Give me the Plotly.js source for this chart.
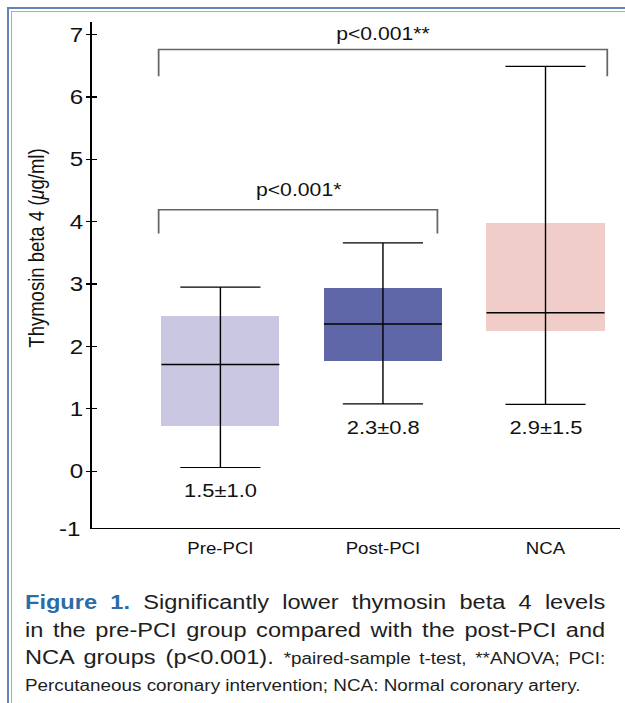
<!DOCTYPE html>
<html>
<head>
<meta charset="utf-8">
<script src="https://cdn.plot.ly/plotly-3.0.1.min.js"></script>
<style>
  html, body { margin:0; padding:0; background:#fff; width:625px; height:703px; overflow:hidden; }
  #frameOuter { position:absolute; left:7px; top:7px; right:0; bottom:0; border-left:2.5px solid #6085bd; border-top:2.5px solid #6085bd; }
  #frameInner { position:absolute; left:11px; top:11px; right:0; bottom:0; border-left:1px solid #97b0d8; border-top:1px solid #97b0d8; }
  #stretch { position:absolute; left:0; top:0; width:530px; height:703px; transform:scaleX(1.17925); transform-origin:0 0; }
  #chart { position:absolute; left:0; top:0; width:530px; height:580px; }
  #caption { position:absolute; left:21.2px; top:589px; width:492px; font-family:"Liberation Sans", Arial, sans-serif; color:#1e1e1e; }
  #caption .ln { height:27.5px; line-height:27.5px; font-size:20px; text-align:justify; text-align-last:justify; white-space:normal; }
  #caption .ln.last { text-align:left; text-align-last:left; white-space:nowrap; }
  #caption .fig { color:#2b6ca8; font-weight:bold; }
  #caption .sm { font-size:16px; }
</style>
</head>
<body>
<div id="frameOuter"></div>
<div id="frameInner"></div>
<div id="stretch">
<div id="chart"></div>
<div id="caption">
  <div class="ln"><span class="fig">Figure 1.</span> Significantly lower thymosin beta 4 levels</div>
  <div class="ln">in the pre-PCI group compared with the post-PCI and</div>
  <div class="ln">NCA groups (p&lt;0.001). <span class="sm">*paired-sample t-test, **ANOVA; PCI:</span></div>
  <div class="ln last sm">Percutaneous coronary intervention; NCA: Normal coronary artery.</div>
</div>
</div>
<script>
// ---- data ----
const categories = ['Pre-PCI', 'Post-PCI', 'NCA'];
const q1 = [0.73, 1.77, 2.25];
const q3 = [2.49, 2.94, 3.98];
const medians = [1.71, 2.36, 2.54];
const lowerWhisker = [0.06, 1.08, 1.07];
const upperWhisker = [2.95, 3.66, 6.49];
const meanSdLabels = ['1.5±1.0', '2.3±0.8', '2.9±1.5'];
const yTickVals = [0, 1, 2, 3, 4, 5, 6, 7];
const yTickText = ['0', '1', '2', '3', '4', '5', '6', '7'];
const yBottom = -0.91;          // where the x axis line sits
const yBottomLabel = '-1';
const yTop = 7.2;
const pLabels = ['p<0.001**', 'p<0.001*'];
// ---- styles ----
const boxColors = ['#c9c7e1', '#5f67a8', '#f0cdc8'];
const FONT = '"Liberation Sans", Arial, Helvetica, sans-serif';

const boxBars = {
  type: 'bar', x: categories,
  y: q3.map((v, i) => v - q1[i]), base: q1,
  width: 0.726,
  marker: { color: boxColors, line: { width: 0 } },
  hoverinfo: 'skip', showlegend: false
};
const whiskers = {
  type: 'scatter', mode: 'markers', x: categories, y: medians,
  marker: { symbol: 'line-ew', size: 71.5, color: '#000', line: { color: '#000', width: 1.5 } },
  error_y: {
    type: 'data', symmetric: false,
    array: upperWhisker.map((v, i) => v - medians[i]),
    arrayminus: medians.map((v, i) => v - lowerWhisker[i]),
    width: 34, thickness: 1.2, color: '#000'
  },
  hoverinfo: 'skip', showlegend: false
};
const dummy = { type: 'scatter', x: [], y: [], yaxis: 'y2', showlegend: false, hoverinfo: 'skip' };

const annotations = categories.map((c, i) => ({
  x: c, y: lowerWhisker[i], xref: 'x', yref: 'y', text: meanSdLabels[i],
  showarrow: false, yanchor: 'top', yshift: -11, font: { size: 18.6, color: '#111', family: FONT }
}));
annotations.push({ x: 1, y: 6.76, xref: 'x', yref: 'y', text: pLabels[0], showarrow: false, yanchor: 'bottom', yshift: 3, font: { size: 18, color: '#111', family: FONT } });
annotations.push({ x: 0.48, y: 4.17, xref: 'x', yref: 'y', text: pLabels[1], showarrow: false, yanchor: 'bottom', yshift: 9, font: { size: 18, color: '#111', family: FONT } });
annotations.push({ x: 0, y: 0.553, xref: 'paper', yref: 'paper', xshift: -60, text: 'Thymosin beta 4 (<i>μ</i>g/ml)', textangle: -90, showarrow: false, font: { size: 18.5, color: '#111', family: FONT } });
annotations.push({ x: 0, y: yBottom, xref: 'paper', yref: 'y', xanchor: 'right', xshift: -8, text: yBottomLabel, showarrow: false, font: { size: 20.5, color: '#111', family: FONT } });

const bracketColor = '#666';
const shapes = [
  { type: 'path', xref: 'x', yref: 'y', path: 'M -0.38 6.33 L -0.38 6.76 L 2.38 6.76 L 2.38 6.33', line: { color: bracketColor, width: 1.5 } },
  { type: 'path', xref: 'x', yref: 'y', path: 'M -0.38 3.81 L -0.38 4.19 L 1.335 4.19 L 1.335 3.81', line: { color: bracketColor, width: 1.5 } }
];

const layout = {
  width: 530, height: 580,
  margin: { l: 78, r: 4, t: 22, b: 52 },
  paper_bgcolor: 'rgba(0,0,0,0)', plot_bgcolor: 'rgba(0,0,0,0)',
  font: { family: FONT, color: '#111' },
  showlegend: false,
  xaxis: {
    type: 'category', range: [-0.79, 2.46],
    showline: true, linecolor: '#000', linewidth: 1.3,
    ticks: 'outside', ticklen: 6, tickcolor: 'rgba(0,0,0,0)',
    showgrid: false, zeroline: false,
    tickfont: { size: 15.8, color: '#111' }
  },
  yaxis: {
    range: [yBottom, yTop], tickvals: yTickVals, ticktext: yTickText,
    showline: true, linecolor: '#000', linewidth: 1.3,
    ticks: 'outside', ticklen: 4, tickwidth: 1.3, tickcolor: '#000',
    ticklabelstandoff: -2,
    showgrid: false, zeroline: false,
    tickfont: { size: 20.5, color: '#111' }
  },
  yaxis2: {
    overlaying: 'y', anchor: 'x', side: 'left',
    range: [yBottom, yTop], tickvals: yTickVals,
    showline: false, ticks: 'inside', ticklen: 4, tickwidth: 1.3, tickcolor: '#000',
    showticklabels: false, showgrid: false, zeroline: false
  },
  annotations: annotations,
  shapes: shapes,
  bargap: 0
};

Plotly.newPlot('chart', [boxBars, whiskers, dummy], layout, { staticPlot: true, displayModeBar: false });
</script>
</body>
</html>
